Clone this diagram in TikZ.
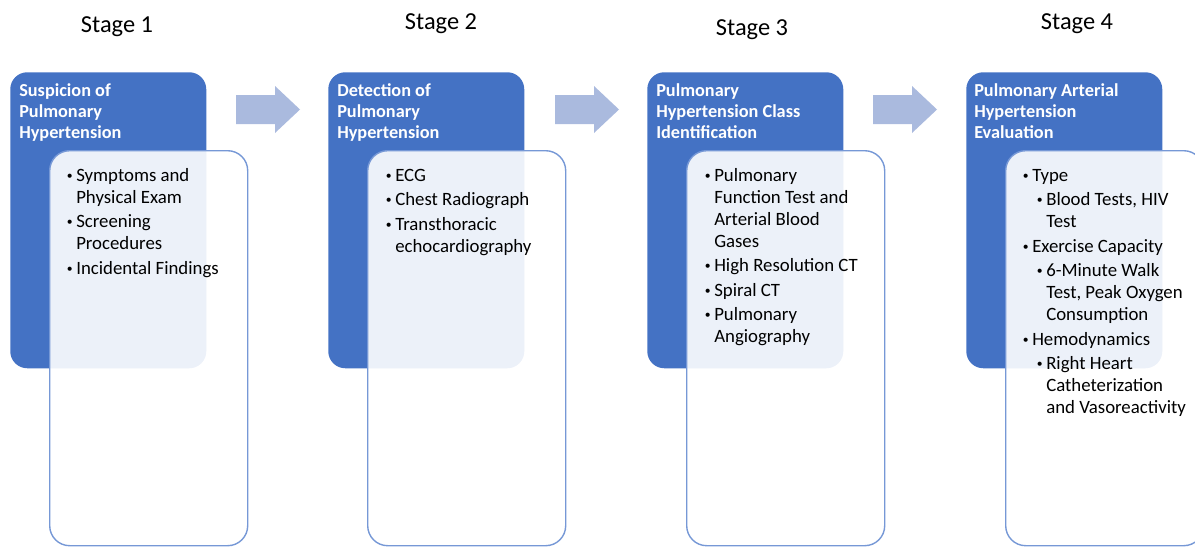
\documentclass[tikz,border=0pt]{standalone}
\usepackage{fontspec}
\setmainfont{Carlito}
\newlength\px
\setlength\px{0.75pt}
\definecolor{darkb}{RGB}{68,114,196}
\definecolor{edgeb}{RGB}{118,152,214}
\definecolor{arrowb}{RGB}{170,186,222}
\tikzset{
  darkbox/.style={rectangle, fill=darkb, rounded corners=17\px, anchor=north west,
    minimum width=196\px, minimum height=296\px, inner sep=0pt},
  whitebox/.style={rectangle, draw=edgeb, line width=1.4\px, fill=white, fill opacity=0.9,
    rounded corners=20\px, anchor=north west, minimum width=198\px, minimum height=395\px, inner sep=0pt},
  stagelbl/.style={anchor=base, inner sep=0pt, font=\fontsize{18.3}{22}\selectfont},
  titletxt/.style={anchor=base west, inner sep=0pt, text=white, font=\fontsize{13.7}{15.75}\selectfont\bfseries},
  listtxt/.style={anchor=base west, inner sep=0pt, text=black, font=\fontsize{14.1}{16.5}\selectfont},
}
\newcommand\bul{\makebox[10\px][l]{\hspace{0.5\px}\raisebox{1.6\px}{\scalebox{0.62}{\textbullet}}}}
\newcommand\cont{\hspace{10\px}}
\newcommand\subbul{\hspace{14\px}\bul}
\newcommand\subcont{\hspace{24\px}}
\begin{document}
\begin{tikzpicture}[x=0.75pt,y=-0.75pt]
\useasboundingbox (0,0) rectangle (1195,546);

% stage labels
\node[stagelbl] (s1) at (117,32) {Stage 1};
\node[stagelbl] (s2) at (441,29) {Stage 2};
\node[stagelbl] (s3) at (752,35) {Stage 3};
\node[stagelbl] (s4) at (1077,29) {Stage 4};

% dark boxes
\node[darkbox] (d1) at (10,72) {};
\node[darkbox] (d2) at (328,72) {};
\node[darkbox] (d3) at (647,72) {};
\node[darkbox] (d4) at (966,72) {};

% titles
\node[titletxt] (t1) at (19,96) {\begin{tabular}[t]{@{}l@{}}Suspicion of\\Pulmonary\\Hypertension\end{tabular}};
\node[titletxt] (t2) at (337,96) {\begin{tabular}[t]{@{}l@{}}Detection of\\Pulmonary\\Hypertension\end{tabular}};
\node[titletxt] (t3) at (656,96) {\begin{tabular}[t]{@{}l@{}}Pulmonary\\Hypertension Class\\Identification\end{tabular}};
\node[titletxt] (t4) at (974,96) {\begin{tabular}[t]{@{}l@{}}Pulmonary Arterial\\Hypertension\\Evaluation\end{tabular}};

% white boxes
\node[whitebox] (w1) at (49,150) {};
\node[whitebox] (w2) at (367,150) {};
\node[whitebox] (w3) at (686,150) {};
\node[whitebox] (w4) at (1005,150) {};

% arrows
\foreach \dx/\nm in {0/a1,319/a2,637/a3}{
  \fill[arrowb] (236+\dx,95) -- (275+\dx,95) -- (275+\dx,86) -- (300+\dx,109.5)
     -- (275+\dx,133) -- (275+\dx,124) -- (236+\dx,124) -- cycle;
}

% lists
\node[listtxt] (l1) at (66,181) {\begin{tabular}[t]{@{}l@{}}
\bul Symptoms and\\
\cont Physical Exam\\[2.5\px]
\bul Screening\\
\cont Procedures\\[2.5\px]
\bul Incidental Findings
\end{tabular}};

\node[listtxt] (l2) at (385,181) {\begin{tabular}[t]{@{}l@{}}
\bul ECG\\[2.5\px]
\bul Chest Radiograph\\[2.5\px]
\bul Transthoracic\\
\cont echocardiography
\end{tabular}};

\node[listtxt] (l3) at (704,181) {\begin{tabular}[t]{@{}l@{}}
\bul Pulmonary\\
\cont Function Test and\\
\cont Arterial Blood\\
\cont Gases\\[2.5\px]
\bul High Resolution CT\\[2.5\px]
\bul Spiral CT\\[2.5\px]
\bul Pulmonary\\
\cont Angiography
\end{tabular}};

\node[listtxt] (l4) at (1022,181) {\begin{tabular}[t]{@{}l@{}}
\bul Type\\[2.5\px]
\subbul Blood Tests, HIV\\
\subcont Test\\[2.5\px]
\bul Exercise Capacity\\[2.5\px]
\subbul 6-Minute Walk\\
\subcont Test, Peak Oxygen\\
\subcont Consumption\\[2.5\px]
\bul Hemodynamics\\[2.5\px]
\subbul Right Heart\\
\subcont Catheterization\\
\subcont and Vasoreactivity
\end{tabular}};
\end{tikzpicture}
\end{document}
